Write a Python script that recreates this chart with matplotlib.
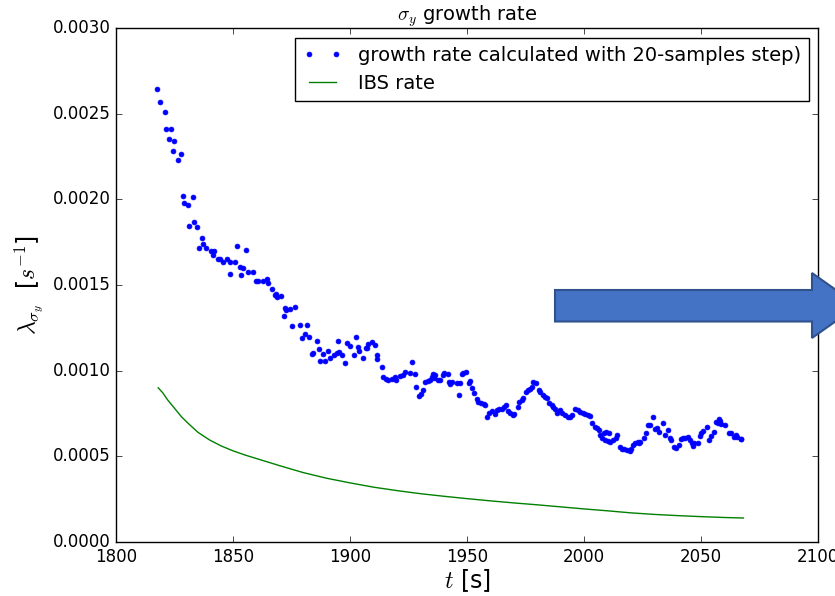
import matplotlib
matplotlib.use('Agg')
import matplotlib.pyplot as plt
from matplotlib.ticker import FormatStrFormatter
from matplotlib.patches import Polygon

plt.style.use('classic')

# growth rate points (time [s], rate [1/s])
t_pts = [1817.5, 1818.8, 1820.8, 1821.2, 1823.6, 1822.8, 1824.7, 1824.5, 1827.8, 1826.6,
         1828.6, 1832.7, 1829.0, 1830.6, 1833.5, 1831.3, 1834.7, 1836.8, 1837.0, 1835.6,
         1838.6, 1840.6, 1841.9, 1841.6, 1843.7, 1844.6, 1845.7, 1847.3, 1848.8, 1850.7,
         1851.7, 1848.7, 1852.9, 1854.3, 1853.2, 1855.4, 1856.5, 1858.5, 1859.8, 1860.8,
         1862.9, 1864.4, 1864.8, 1866.8, 1867.7, 1868.4, 1868.7, 1870.4, 1872.2, 1872.6,
         1874.5, 1876.6, 1871.7, 1875.3, 1878.6, 1881.6, 1880.9, 1879.5, 1882.5, 1885.8,
         1894.7, 1886.5, 1883.6, 1884.3, 1888.6, 1890.7, 1892.9, 1894.3, 1895.2, 1887.2,
         1889.3, 1891.3, 1896.7, 1897.6, 1898.6, 1899.8, 1902.4, 1901.7, 1903.5, 1903.8,
         1905.4, 1906.7, 1907.5, 1907.4, 1909.5, 1910.7, 1911.4, 1911.5, 1913.5, 1914.2,
         1915.2, 1916.3, 1917.8, 1919.2, 1919.7, 1921.4, 1922.6, 1923.5, 1925.5, 1927.5,
         1926.4, 1928.0, 1929.6, 1930.3, 1931.3, 1931.8, 1933.2, 1934.2, 1934.9, 1935.3,
         1935.9, 1937.5, 1936.3, 1938.5, 1939.5, 1939.9, 1941.7, 1942.7, 1942.3, 1943.7,
         1945.6, 1946.3, 1947.7, 1948.4, 1949.4, 1947.0, 1950.6, 1951.4, 1952.0, 1953.1,
         1954.1, 1954.8, 1956.0, 1957.0, 1957.7, 1958.4, 1959.4, 1960.5, 1961.7, 1962.7,
         1963.8, 1964.8, 1965.8, 1966.5, 1967.4, 1968.4, 1969.4, 1970.2, 1971.7, 1972.2,
         1973.4, 1974.0, 1975.1, 1975.9, 1976.8, 1977.6, 1978.3, 1979.3, 1980.5, 1981.2,
         1982.2, 1983.3, 1984.3, 1985.0, 1986.2, 1986.8, 1987.6, 1988.2, 1989.7, 1990.7,
         1991.9, 1992.9, 1993.9, 1994.7, 1996.2, 1997.3, 1998.3, 1999.3, 2000.4, 2001.6,
         2002.3, 2003.3, 2004.4, 2005.4, 2006.1, 2006.8, 2008.3, 2009.3, 2010.4, 2007.5,
         2009.0, 2010.1, 2011.1, 2012.5, 2013.5, 2013.9, 2015.4, 2016.1, 2017.2, 2018.2,
         2019.4, 2020.1, 2020.8, 2021.8, 2022.8, 2023.2, 2023.8, 2025.4, 2026.5, 2027.2,
         2028.2, 2029.2, 2030.3, 2031.8, 2031.3, 2033.5, 2034.6, 2035.6, 2036.5, 2037.2,
         2038.2, 2039.2, 2040.3, 2041.3, 2042.0, 2043.2, 2044.3, 2045.0, 2046.0, 2046.3,
         2047.1, 2048.4, 2049.3, 2050.0, 2050.7, 2052.4, 2053.1, 2054.3, 2055.3, 2056.4,
         2057.1, 2057.7, 2058.5, 2058.1, 2060.3, 2061.7, 2062.7, 2063.8, 2064.8, 2065.2,
         2066.8, 2067.1]
rate_pts = [0.002642, 0.002568, 0.002508, 0.002412, 0.002412, 0.002350, 0.002339, 0.002282, 0.002266, 0.002228,
            0.002019, 0.002014, 0.001978, 0.001967, 0.001868, 0.001844, 0.001838, 0.001773, 0.001738, 0.001716,
            0.001716, 0.001698, 0.001698, 0.001675, 0.001653, 0.001653, 0.001634, 0.001652, 0.001636, 0.001636,
            0.001728, 0.001564, 0.001605, 0.001597, 0.001558, 0.001704, 0.001578, 0.001578, 0.001523, 0.001523,
            0.001525, 0.001535, 0.001513, 0.001475, 0.001440, 0.001446, 0.001432, 0.001434, 0.001364, 0.001354,
            0.001358, 0.001372, 0.001321, 0.001259, 0.001265, 0.001265, 0.001216, 0.001192, 0.001196, 0.001175,
            0.001175, 0.001126, 0.001097, 0.001105, 0.001097, 0.001115, 0.001091, 0.001101, 0.001111, 0.001058,
            0.001058, 0.001072, 0.001091, 0.001046, 0.001160, 0.001144, 0.001198, 0.001091, 0.001140, 0.001117,
            0.001076, 0.001130, 0.001156, 0.001130, 0.001169, 0.001148, 0.001091, 0.001068, 0.001023, 0.000961,
            0.000951, 0.000946, 0.000953, 0.000961, 0.000946, 0.000971, 0.000975, 0.000994, 0.000985, 0.000979,
            0.001052, 0.000906, 0.000854, 0.000862, 0.000887, 0.000934, 0.000941, 0.000946, 0.000961, 0.000981,
            0.000955, 0.000944, 0.000975, 0.000946, 0.000975, 0.000985, 0.000979, 0.000920, 0.000936, 0.000936,
            0.000930, 0.000856, 0.000979, 0.000988, 0.000992, 0.000930, 0.000926, 0.000938, 0.000897, 0.000868,
            0.000836, 0.000819, 0.000810, 0.000804, 0.000800, 0.000731, 0.000755, 0.000763, 0.000747, 0.000770,
            0.000778, 0.000776, 0.000790, 0.000801, 0.000763, 0.000751, 0.000740, 0.000747, 0.000790, 0.000817,
            0.000829, 0.000839, 0.000875, 0.000887, 0.000895, 0.000906, 0.000936, 0.000930, 0.000887, 0.000877,
            0.000858, 0.000848, 0.000842, 0.000810, 0.000801, 0.000788, 0.000775, 0.000751, 0.000770, 0.000751,
            0.000741, 0.000731, 0.000731, 0.000741, 0.000776, 0.000770, 0.000761, 0.000751, 0.000747, 0.000741,
            0.000735, 0.000693, 0.000673, 0.000664, 0.000654, 0.000625, 0.000638, 0.000644, 0.000638, 0.000605,
            0.000595, 0.000591, 0.000585, 0.000595, 0.000605, 0.000625, 0.000556, 0.000543, 0.000541, 0.000537,
            0.000533, 0.000541, 0.000566, 0.000576, 0.000585, 0.000576, 0.000585, 0.000605, 0.000634, 0.000683,
            0.000683, 0.000728, 0.000658, 0.000644, 0.000664, 0.000696, 0.000625, 0.000654, 0.000605, 0.000595,
            0.000556, 0.000550, 0.000566, 0.000599, 0.000605, 0.000605, 0.000615, 0.000595, 0.000580, 0.000560,
            0.000576, 0.000580, 0.000619, 0.000638, 0.000650, 0.000669, 0.000595, 0.000619, 0.000644, 0.000702,
            0.000696, 0.000716, 0.000689, 0.000708, 0.000681, 0.000638, 0.000634, 0.000615, 0.000625, 0.000611,
            0.000603, 0.000601]

# IBS rate curve
t_ibs = [1818, 1820, 1822, 1825, 1828, 1831, 1835, 1840, 1845, 1850, 1855, 1860, 1870, 1880,
         1890, 1900, 1910, 1920, 1930, 1940, 1950, 1960, 1970, 1980, 1990, 2000, 2010, 2020,
         2030, 2040, 2050, 2060, 2068]
rate_ibs = [0.00090, 0.00087, 0.00083, 0.00078, 0.00073, 0.00069, 0.00064, 0.000595, 0.000560,
            0.000532, 0.000508, 0.000487, 0.000445, 0.000405, 0.000372, 0.000345, 0.000320, 0.000300,
            0.000282, 0.000267, 0.000253, 0.000240, 0.000228, 0.000217, 0.000205, 0.000193, 0.000182,
            0.000170, 0.000161, 0.000154, 0.000148, 0.000143, 0.000140]

fig = plt.figure(figsize=(8.35, 5.96), dpi=100, facecolor='white')
ax = fig.add_axes([0.139, 0.0906, 0.841, 0.8624])
ax.plot(t_pts, rate_pts, 'b.', markersize=7, label='growth rate calculated with 20-samples step)')
ax.plot(t_ibs, rate_ibs, 'g-', label='IBS rate')
ax.set_xlim(1800, 2100)
ax.set_ylim(0, 0.003)
ax.set_yticks([0, 0.0005, 0.001, 0.0015, 0.002, 0.0025, 0.003])
ax.yaxis.set_major_formatter(FormatStrFormatter('%.4f'))
ax.set_title(r'$\sigma_y$ growth rate', fontsize=14)
ax.set_xlabel(r'$t$ [s]', fontsize=17, labelpad=1)
ax.set_ylabel(r'$\lambda_{\sigma_y}$  [$s^{-1}$]', fontsize=17)
ax.legend(loc='upper right', fontsize=14, numpoints=2)

# block arrow drawn on top of the figure
arrow = Polygon([(555/835, 1-290/596), (812/835, 1-290/596), (812/835, 1-273/596),
                 (858/835, 1-305.5/596), (812/835, 1-338/596), (812/835, 1-321.5/596),
                 (555/835, 1-321.5/596)], closed=True, transform=fig.transFigure,
                facecolor='#4472C4', edgecolor='#2F528F', linewidth=1.5, clip_on=False)
fig.patches.append(arrow)

fig.savefig('out.png', dpi=100, facecolor='white')
